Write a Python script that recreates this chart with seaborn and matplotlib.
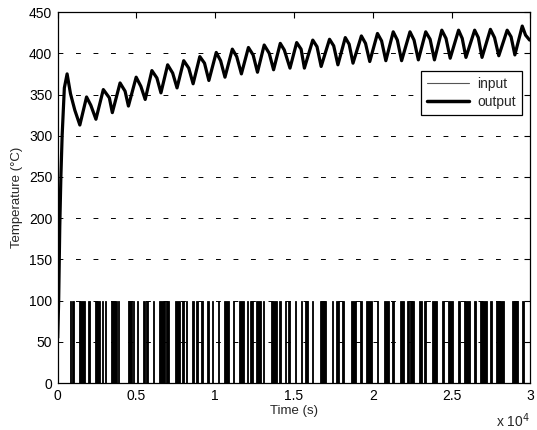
import numpy as np
import pandas as pd
import matplotlib
matplotlib.use("Agg")
import matplotlib.pyplot as plt
from matplotlib.lines import Line2D
import seaborn as sns

# ---- data (seconds, degC) ----
out_time = [0, 60, 130, 200, 280, 340, 420, 595, 810, 1085, 1404,
            1830, 2100, 2425, 2894, 3276, 3466, 3957, 4276, 4488,
            4979, 5276, 5553, 5978, 6297, 6552, 6978, 7297, 7574,
            7999, 8318, 8595, 9020, 9318, 9595, 10063, 10340, 10617,
            11084, 11362, 11660, 12106, 12404, 12681, 13107, 13426, 13703,
            14128, 14383, 14745, 15170, 15450, 15659, 16191, 16460, 16723,
            17255, 17520, 17787, 18255, 18500, 18745, 19277, 19540, 19809,
            20298, 20560, 20830, 21298, 21560, 21830, 22362, 22620, 22894,
            23362, 23640, 23915, 24383, 24650, 24915, 25447, 25680, 25915,
            26468, 26700, 26936, 27468, 27730, 28000, 28532, 28780, 29021,
            29489, 29700, 29957]
out_temp = [55, 100, 190, 250, 300, 325, 358, 375, 351, 331, 313,
            347, 337, 320, 356, 346, 328, 364, 354, 336,
            371, 360, 344, 379, 370, 352, 386, 376, 358,
            391, 382, 363, 396, 388, 367, 401, 391, 371,
            405, 396, 375, 407, 398, 377, 410, 400, 380,
            412, 404, 382, 413, 405, 382, 416, 408, 384,
            417, 409, 386, 419, 411, 388, 421, 412, 390,
            424, 415, 391, 426, 416, 391, 426, 416, 392,
            426, 417, 392, 428, 418, 394, 428, 418, 395,
            428, 419, 395, 429, 419, 397, 428, 420, 398,
            433, 422, 416]

# input pulses at level 100: start and end times (s)
in_start = [780, 927, 1372, 1943, 2369, 2813, 3004, 3385, 3810, 4445, 4782,
            5036, 5417, 5607, 6052, 6433, 6896, 7430, 7912, 8128, 8547, 8763,
            9119, 9481, 9779, 10160, 10541, 11113, 11532, 12021, 12230, 12592,
            13018, 13545, 14072, 14434, 14643, 15069, 15431, 15704, 16129,
            16637, 17399, 17653, 18072, 18606, 19177, 19596, 20276, 20701,
            21228, 21717, 22181, 22352, 22924, 23279, 23768, 24403, 24803,
            25400, 25819, 26454, 26816, 27451, 27813, 28829, 29502]
in_end = [820, 1035, 1734, 2051, 2686, 2896, 3086, 3747, 3893, 4737, 4845,
          5099, 5544, 5734, 6115, 6795, 7068, 7747, 8001, 8211, 8636, 8909,
          9227, 9608, 9862, 10224, 10897, 11214, 11849, 12103, 12383, 12910,
          13119, 13907, 14180, 14516, 14732, 15151, 15532, 15913, 16212,
          17056, 17482, 17863, 18180, 18923, 19304, 19958, 20339, 21019,
          21336, 22009, 22289, 22606, 23133, 23406, 24086, 24511, 25121,
          25546, 26181, 26543, 27242, 27559, 28359, 29248, 29610]
in_level = 100

x_ticks = [0, 5000, 10000, 15000, 20000, 25000, 30000]
x_labels = ["0", "0.5", "1", "1.5", "2", "2.5", "3"]
y_ticks = [0, 50, 100, 150, 200, 250, 300, 350, 400, 450]

# ---- plot ----
sns.set_theme(style="white")
plt.rcParams["font.family"] = ["Liberation Sans", "DejaVu Sans"]

fig = plt.figure(figsize=(5.37, 4.30), dpi=100)
ax = fig.add_axes([0.1075, 0.109, 0.880, 0.863])

starts = np.array(in_start, dtype=float)
widths = np.array(in_end, dtype=float) - starts
ax.bar(starts, [in_level] * len(starts), width=widths, align="edge",
       color="black", edgecolor="black", linewidth=0.6, zorder=2)

df = pd.DataFrame({"time": out_time, "temp": out_temp})
sns.lineplot(data=df, x="time", y="temp", ax=ax, color="black",
             linewidth=2.3, zorder=3)

ax.set_xlim(0, 30000)
ax.set_ylim(0, 450)
ax.set_xticks(x_ticks)
ax.set_xticklabels(x_labels)
ax.set_yticks(y_ticks)
ax.yaxis.grid(True, color="black", linestyle=(0, (5, 13)), linewidth=0.7)
ax.xaxis.grid(False)
ax.set_axisbelow(True)
for s in ax.spines.values():
    s.set_color("black")
    s.set_linewidth(0.9)
ax.tick_params(direction="in", length=4, width=0.8, top=True, right=True,
               labelsize=10, colors="black", pad=4)
ax.set_xlabel("Time (s)", fontsize=9.5, labelpad=2)
ax.set_ylabel("Temperature (°C)", fontsize=9.5, labelpad=4)
ax.text(1.0, -0.075, r"x 10$^{4}$", transform=ax.transAxes, ha="right",
        va="top", fontsize=10)

handles = [Line2D([], [], color="#555555", linewidth=0.8),
           Line2D([], [], color="black", linewidth=2.5)]
leg = ax.legend(handles, ["input", "output"], loc="upper right",
                bbox_to_anchor=(0.983, 0.841), fontsize=10, frameon=True,
                fancybox=False, edgecolor="black", framealpha=1,
                handlelength=3.0, borderpad=0.45, labelspacing=0.25,
                handletextpad=0.6, borderaxespad=0)
leg.get_frame().set_linewidth(0.9)

fig.savefig("out.png", dpi=100)
